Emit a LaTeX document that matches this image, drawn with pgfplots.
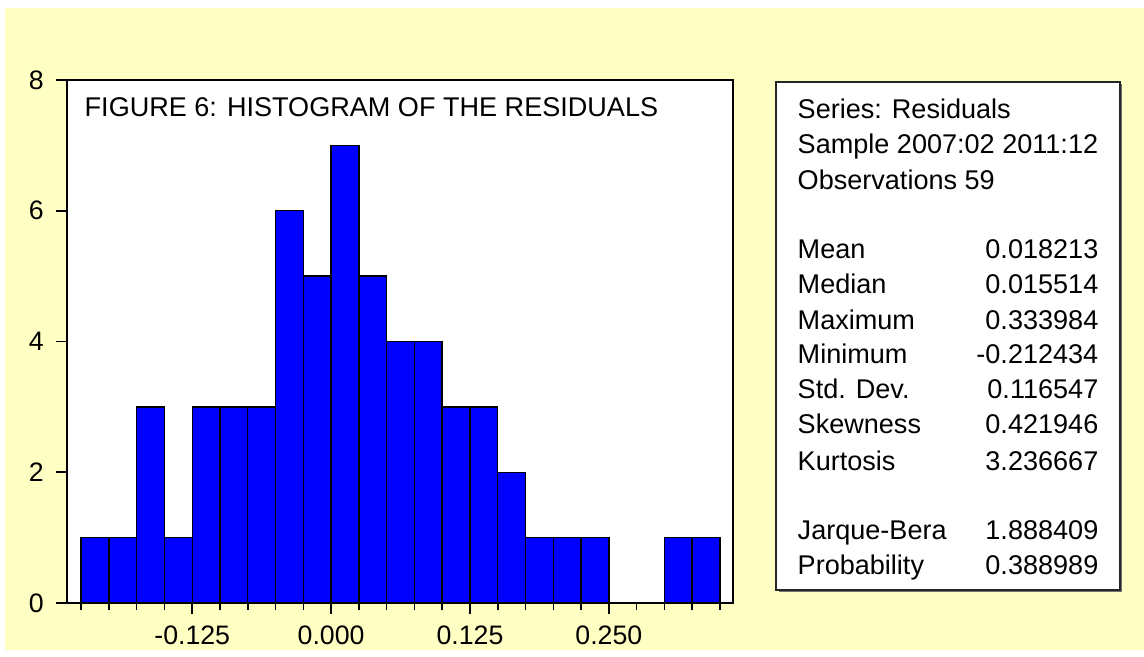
\documentclass[border=0pt]{standalone}
\usepackage{fontspec}
\setmainfont{Liberation Sans}
\usepackage{pgfplots}
\pgfplotsset{compat=1.18}
\definecolor{evbg}{RGB}{255,255,196}
\definecolor{evblue}{RGB}{0,0,255}
\newcommand{\txtfont}{\fontsize{7.7}{9.3}\selectfont}

\begin{document}
\begin{tikzpicture}
% page: 1 px of the reference = 0.01cm
\fill[white] (0,0) rectangle (11.44,6.50);
\fill[evbg] (0.05,0) rectangle (11.44,6.42);

\begin{axis}[
  at={(0.667cm,0.47cm)}, anchor=south west,
  scale only axis, width=6.66cm, height=5.23cm,
  xmin=-0.238, xmax=0.3615, ymin=0, ymax=8,
  axis background/.style={fill=white},
  axis on top,
  axis line style={line width=0.6pt},
  xtick={-0.125,0,0.125,0.25},
  xticklabels={-0.125,0.000,0.125,0.250},
  minor xtick={-0.225,-0.2,-0.175,-0.15,-0.1,-0.075,-0.05,-0.025,
    0.025,0.05,0.075,0.1,0.15,0.175,0.2,0.225,0.275,0.3,0.325,0.35},
  ytick={0,2,4,6,8},
  tick align=outside, xtick pos=left, ytick pos=left,
  major tick length=0.105cm, minor tick length=0.07cm,
  tick style={black, line width=0.45pt},
  tick label style={font=\fontsize{7.6}{9}\selectfont},
  /pgf/number format/assume math mode=true,
]
\addplot[ybar interval, fill=evblue, draw=black, line width=0.4pt] coordinates {
  (-0.225,1) (-0.2,1) (-0.175,3) (-0.15,1) (-0.125,3) (-0.1,3)
  (-0.075,3) (-0.05,6) (-0.025,5) (0,7) (0.025,5) (0.05,4)
  (0.075,4) (0.1,3) (0.125,3) (0.15,2) (0.175,1) (0.2,1)
  (0.225,1) (0.25,0) (0.275,0) (0.3,1) (0.325,1) (0.35,0)
};
\end{axis}

\node[anchor=base west, inner sep=0pt, font=\txtfont] at (0.84,5.34)
  {FIGURE 6: HISTOGRAM OF THE RESIDUALS};

% statistics box
\fill[black!55] (7.785,0.585) rectangle (11.215,5.665);
\draw[fill=white, draw=black!85, line width=0.45pt] (7.76,0.60) rectangle (11.20,5.68);
\foreach \y/\lab in {118/{Series: Residuals}, 153/{Sample 2007:02 2011:12}, 189/{Observations 59}}
  \node[anchor=base west, inner sep=0pt, font=\txtfont] at (7.97,6.50-\y/100) {\lab};
\foreach \y/\lab/\val in {258/Mean/0.018213, 293/Median/0.015514, 329/Maximum/0.333984,
    363/Minimum/-0.212434, 398/{Std. Dev.}/0.116547, 433/Skewness/0.421946,
    470/Kurtosis/3.236667, 539/Jarque-Bera/1.888409, 574/Probability/0.388989}{
  \node[anchor=base west, inner sep=0pt, font=\txtfont] at (7.97,6.50-\y/100) {\lab};
  \node[anchor=base east, inner sep=0pt, font=\txtfont] at (10.99,6.50-\y/100) {\val};
}
\end{tikzpicture}
\end{document}
